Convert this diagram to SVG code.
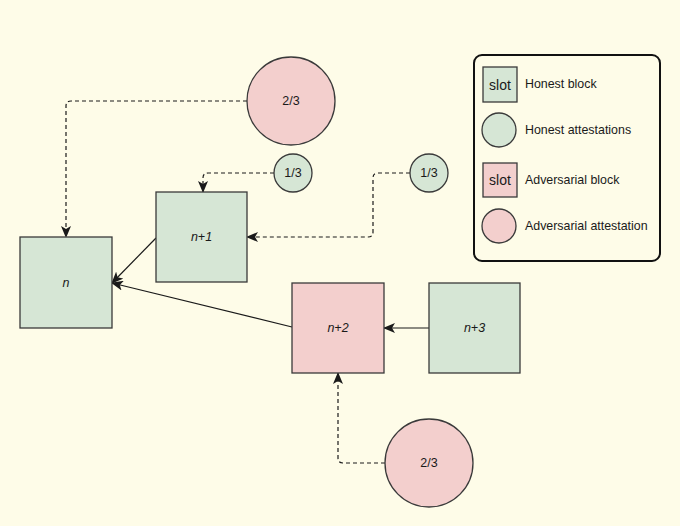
<svg xmlns="http://www.w3.org/2000/svg" width="680" height="526" viewBox="0 0 680 526">
<style>
.bg{fill:#fefce8}
.h{fill:#d6e6d5;stroke:#3a3a3a;stroke-width:1.3}
.a{fill:#f3cfcd;stroke:#3a3a3a;stroke-width:1.3}
.t{font-family:"Liberation Sans",Arial,sans-serif;font-size:12.5px;fill:#1a1a1a;text-anchor:middle;dominant-baseline:central}
.i{font-style:italic}
.l{font-family:"Liberation Sans",Arial,sans-serif;font-size:12.4px;fill:#1a1a1a;dominant-baseline:central}
.s{fill:none;stroke:#1a1a1a;stroke-width:1.2}
.d{fill:none;stroke:#1a1a1a;stroke-width:1.2;stroke-dasharray:4 3}
</style>
<defs>
<marker id="arr" viewBox="0 0 12 10" refX="11" refY="5" markerWidth="12" markerHeight="10" markerUnits="userSpaceOnUse" orient="auto">
<path d="M0,0 L12,5 L0,10 L3,5 Z" fill="#1a1a1a"/>
</marker>
</defs>
<rect class="bg" x="0" y="0" width="680" height="526"/>
<g id="connectors">
<path class="d" d="M247,101 H71 Q66,101 66,106 V237" marker-end="url(#arr)"/>
<path class="d" d="M274,173 H208 Q203,173 203,178 V192" marker-end="url(#arr)"/>
<path class="d" d="M410,173 H378 Q373,173 373,178 V232 Q373,237 368,237 H247" marker-end="url(#arr)"/>
<path class="d" d="M385,463 H343 Q338,463 338,458 V373" marker-end="url(#arr)"/>
<path class="s" d="M156,238 L112,283" marker-end="url(#arr)"/>
<path class="s" d="M292,327 L112,283" marker-end="url(#arr)"/>
<path class="s" d="M429,328 L384,328" marker-end="url(#arr)"/>
</g>
<g id="n"><rect class="h" x="20" y="237" width="92" height="91"/><text class="t i" x="66" y="283">n</text></g>
<g id="n1"><rect class="h" x="156" y="192" width="91" height="90"/><text class="t i" x="201.5" y="237">n+1</text></g>
<g id="n2"><rect class="a" x="292" y="283" width="92" height="90"/><text class="t i" x="338" y="328">n+2</text></g>
<g id="n3"><rect class="h" x="429" y="283" width="91" height="90"/><text class="t i" x="474.5" y="328">n+3</text></g>
<g id="att-top"><circle class="a" cx="291" cy="101" r="44"/><text class="t" x="291" y="101">2/3</text></g>
<g id="att-left"><circle class="h" cx="293" cy="173" r="19"/><text class="t" x="293" y="173">1/3</text></g>
<g id="att-right"><circle class="h" cx="429" cy="173" r="19"/><text class="t" x="429" y="173">1/3</text></g>
<g id="att-bottom"><circle class="a" cx="429" cy="463" r="44"/><text class="t" x="429" y="463">2/3</text></g>
<g id="legend">
<rect x="474" y="55" width="186" height="206" rx="8" fill="none" stroke="#111" stroke-width="2"/>
<rect class="h" x="483" y="67" width="34" height="35"/><text class="t" x="500" y="84.5" style="font-size:14px">slot</text>
<text class="l" x="525" y="84">Honest block</text>
<circle class="h" cx="499" cy="130" r="17"/>
<text class="l" x="525" y="130">Honest attestations</text>
<rect class="a" x="483" y="163" width="34" height="34"/><text class="t" x="500" y="180" style="font-size:14px">slot</text>
<text class="l" x="525" y="180">Adversarial block</text>
<circle class="a" cx="499" cy="226" r="17"/>
<text class="l" x="525" y="226">Adversarial attestation</text>
</g>
</svg>
